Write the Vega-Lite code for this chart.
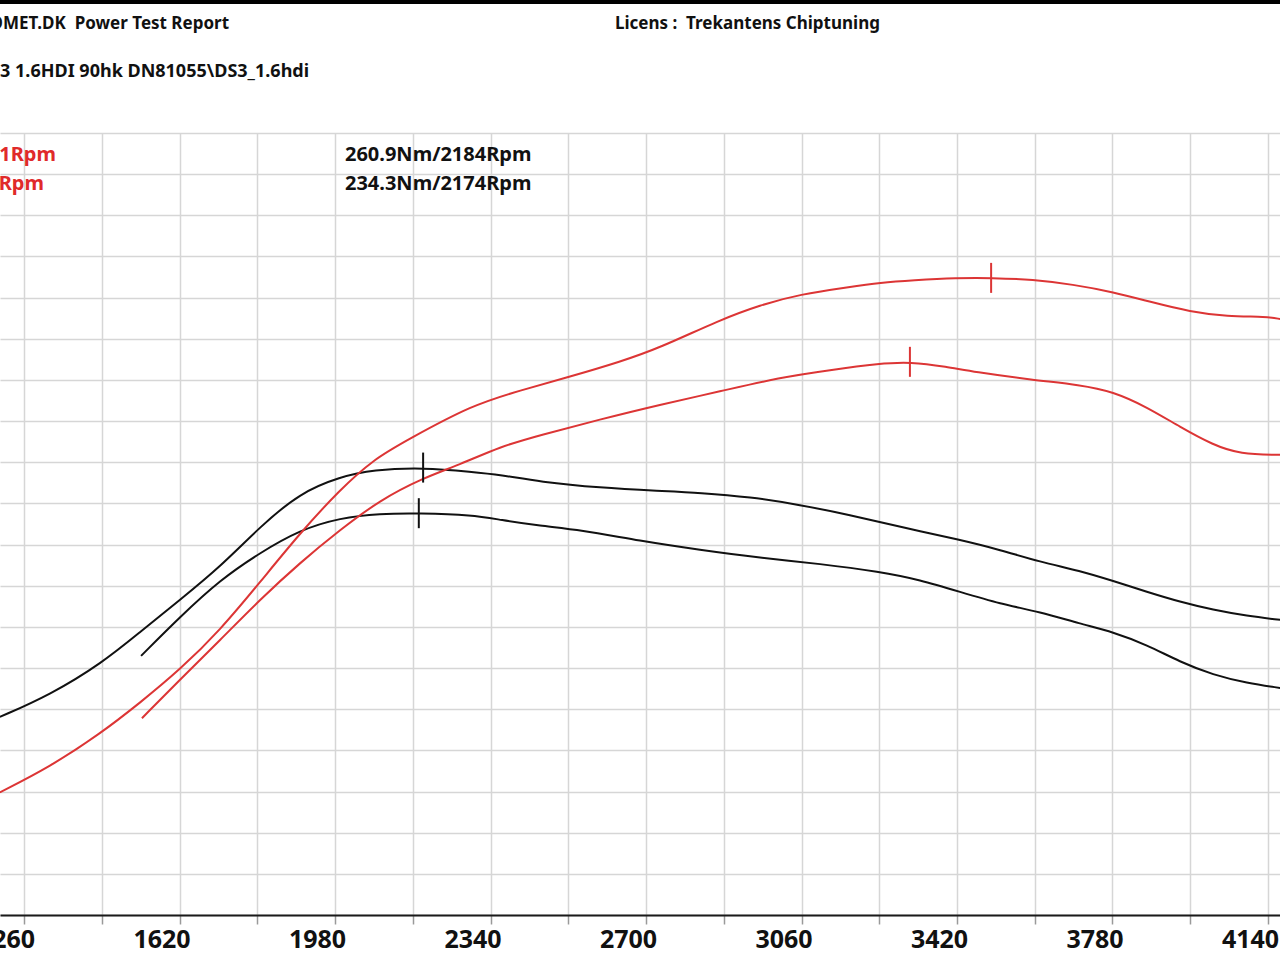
{
  "$schema": "https://vega.github.io/schema/vega-lite/v6.json",
  "width": 1280,
  "height": 782,
  "autosize": {"type": "none"},
  "padding": {"left": 0, "right": 0, "top": 133, "bottom": 45},
  "background": "white",
  "config": {"view": {"stroke": null}},
  "datasets": {
    "torque": [
      {"run": "tuned", "rpm": 1204, "nm": 115.5}, {"run": "tuned", "rpm": 1320, "nm": 128.3}, {"run": "tuned", "rpm": 1441, "nm": 147.0},
      {"run": "tuned", "rpm": 1529, "nm": 165.1}, {"run": "tuned", "rpm": 1621, "nm": 183.8}, {"run": "tuned", "rpm": 1714, "nm": 203.0},
      {"run": "tuned", "rpm": 1806, "nm": 226.3}, {"run": "tuned", "rpm": 1899, "nm": 246.2}, {"run": "tuned", "rpm": 1992, "nm": 255.5},
      {"run": "tuned", "rpm": 2068, "nm": 259.6}, {"run": "tuned", "rpm": 2184, "nm": 260.9}, {"run": "tuned", "rpm": 2299, "nm": 258.4},
      {"run": "tuned", "rpm": 2362, "nm": 256.7}, {"run": "tuned", "rpm": 2455, "nm": 252.6}, {"run": "tuned", "rpm": 2593, "nm": 249.1},
      {"run": "tuned", "rpm": 2732, "nm": 247.3}, {"run": "tuned", "rpm": 2825, "nm": 246.2}, {"run": "tuned", "rpm": 2941, "nm": 243.8},
      {"run": "tuned", "rpm": 3056, "nm": 239.2}, {"run": "tuned", "rpm": 3172, "nm": 233.3}, {"run": "tuned", "rpm": 3288, "nm": 226.3},
      {"run": "tuned", "rpm": 3427, "nm": 218.8}, {"run": "tuned", "rpm": 3520, "nm": 212.9}, {"run": "tuned", "rpm": 3612, "nm": 205.9},
      {"run": "tuned", "rpm": 3705, "nm": 200.7}, {"run": "tuned", "rpm": 3781, "nm": 194.8}, {"run": "tuned", "rpm": 3860, "nm": 188.4},
      {"run": "tuned", "rpm": 3936, "nm": 182.6}, {"run": "tuned", "rpm": 4013, "nm": 177.9}, {"run": "tuned", "rpm": 4091, "nm": 174.4},
      {"run": "tuned", "rpm": 4168, "nm": 172.1},
      {"run": "stock", "rpm": 1531, "nm": 151.1}, {"run": "stock", "rpm": 1621, "nm": 173.8}, {"run": "stock", "rpm": 1714, "nm": 195.4},
      {"run": "stock", "rpm": 1806, "nm": 211.2}, {"run": "stock", "rpm": 1899, "nm": 224.6}, {"run": "stock", "rpm": 1992, "nm": 231.6},
      {"run": "stock", "rpm": 2084, "nm": 234.1}, {"run": "stock", "rpm": 2174, "nm": 234.3}, {"run": "stock", "rpm": 2299, "nm": 233.3},
      {"run": "stock", "rpm": 2362, "nm": 230.4}, {"run": "stock", "rpm": 2455, "nm": 226.9}, {"run": "stock", "rpm": 2547, "nm": 224.6},
      {"run": "stock", "rpm": 2686, "nm": 218.2}, {"run": "stock", "rpm": 2825, "nm": 212.9}, {"run": "stock", "rpm": 2964, "nm": 208.3},
      {"run": "stock", "rpm": 3103, "nm": 204.8}, {"run": "stock", "rpm": 3242, "nm": 200.1}, {"run": "stock", "rpm": 3334, "nm": 195.4},
      {"run": "stock", "rpm": 3427, "nm": 188.4}, {"run": "stock", "rpm": 3520, "nm": 181.4}, {"run": "stock", "rpm": 3612, "nm": 176.8},
      {"run": "stock", "rpm": 3705, "nm": 169.8}, {"run": "stock", "rpm": 3781, "nm": 165.1}, {"run": "stock", "rpm": 3860, "nm": 157.5},
      {"run": "stock", "rpm": 3936, "nm": 147.6}, {"run": "stock", "rpm": 4013, "nm": 140.0}, {"run": "stock", "rpm": 4091, "nm": 135.3},
      {"run": "stock", "rpm": 4168, "nm": 132.4}
    ],
    "power": [
      {"run": "tuned", "rpm": 1204, "kw": 14.9}, {"run": "tuned", "rpm": 1320, "kw": 18.0}, {"run": "tuned", "rpm": 1436, "kw": 22.0},
      {"run": "tuned", "rpm": 1529, "kw": 25.8}, {"run": "tuned", "rpm": 1621, "kw": 29.8}, {"run": "tuned", "rpm": 1714, "kw": 34.6},
      {"run": "tuned", "rpm": 1806, "kw": 40.4}, {"run": "tuned", "rpm": 1899, "kw": 46.4}, {"run": "tuned", "rpm": 1992, "kw": 51.7},
      {"run": "tuned", "rpm": 2068, "kw": 55.3}, {"run": "tuned", "rpm": 2147, "kw": 57.7}, {"run": "tuned", "rpm": 2299, "kw": 62.0},
      {"run": "tuned", "rpm": 2408, "kw": 63.7}, {"run": "tuned", "rpm": 2524, "kw": 65.4}, {"run": "tuned", "rpm": 2640, "kw": 67.2},
      {"run": "tuned", "rpm": 2732, "kw": 68.9}, {"run": "tuned", "rpm": 2871, "kw": 72.3}, {"run": "tuned", "rpm": 2964, "kw": 74.1},
      {"run": "tuned", "rpm": 3056, "kw": 75.4}, {"run": "tuned", "rpm": 3172, "kw": 76.3}, {"run": "tuned", "rpm": 3242, "kw": 76.8},
      {"run": "tuned", "rpm": 3318, "kw": 77.1}, {"run": "tuned", "rpm": 3420, "kw": 77.4}, {"run": "tuned", "rpm": 3499, "kw": 77.4},
      {"run": "tuned", "rpm": 3596, "kw": 77.2}, {"run": "tuned", "rpm": 3688, "kw": 76.6}, {"run": "tuned", "rpm": 3781, "kw": 75.7},
      {"run": "tuned", "rpm": 3874, "kw": 74.4}, {"run": "tuned", "rpm": 3959, "kw": 73.3}, {"run": "tuned", "rpm": 4045, "kw": 72.7},
      {"run": "tuned", "rpm": 4138, "kw": 72.7}, {"run": "tuned", "rpm": 4168, "kw": 72.4},
      {"run": "stock", "rpm": 1533, "kw": 23.9}, {"run": "stock", "rpm": 1621, "kw": 28.6}, {"run": "stock", "rpm": 1714, "kw": 33.4},
      {"run": "stock", "rpm": 1806, "kw": 38.3}, {"run": "stock", "rpm": 1899, "kw": 42.8}, {"run": "stock", "rpm": 1992, "kw": 46.8},
      {"run": "stock", "rpm": 2084, "kw": 50.4}, {"run": "stock", "rpm": 2184, "kw": 53.1}, {"run": "stock", "rpm": 2269, "kw": 54.7},
      {"run": "stock", "rpm": 2362, "kw": 56.9}, {"run": "stock", "rpm": 2455, "kw": 58.3}, {"run": "stock", "rpm": 2593, "kw": 60.2},
      {"run": "stock", "rpm": 2732, "kw": 62.0}, {"run": "stock", "rpm": 2871, "kw": 63.6}, {"run": "stock", "rpm": 3010, "kw": 65.3},
      {"run": "stock", "rpm": 3126, "kw": 66.2}, {"run": "stock", "rpm": 3242, "kw": 67.0}, {"run": "stock", "rpm": 3311, "kw": 67.2},
      {"run": "stock", "rpm": 3397, "kw": 66.6}, {"run": "stock", "rpm": 3457, "kw": 66.0}, {"run": "stock", "rpm": 3596, "kw": 65.0},
      {"run": "stock", "rpm": 3705, "kw": 64.4}, {"run": "stock", "rpm": 3781, "kw": 63.6}, {"run": "stock", "rpm": 3860, "kw": 61.7},
      {"run": "stock", "rpm": 3936, "kw": 59.3}, {"run": "stock", "rpm": 4013, "kw": 57.1}, {"run": "stock", "rpm": 4075, "kw": 56.0},
      {"run": "stock", "rpm": 4168, "kw": 55.9}
    ],
    "torquePeaks": [
      {"run": "tuned", "rpm": 2184, "nm": 260.9},
      {"run": "stock", "rpm": 2174, "nm": 234.3}
    ],
    "powerPeaks": [
      {"run": "tuned", "rpm": 3499, "kw": 77.4},
      {"run": "stock", "rpm": 3311, "kw": 67.2}
    ],
    "headerRight": [
      {"text": "OMET.DK\u00a0 Power Test Report", "rpm": 1734.6, "nm": 519.8}
    ],
    "headerLeft": [
      {"text": "Licens :\u00a0 Trekantens Chiptuning", "rpm": 2628.2, "nm": 519.8}
    ],
    "subHeader": [
      {"text": "3 1.6HDI 90hk DN81055\\DS3_1.6hdi", "rpm": 1204.6, "nm": 491.8}
    ],
    "redNotes": [
      {"text": "1Rpm", "rpm": 1334.0, "nm": 443.3},
      {"text": "Rpm", "rpm": 1306.3, "nm": 426.4}
    ],
    "blackNotes": [
      {"text": "260.9Nm/2184Rpm", "rpm": 2003.1, "nm": 443.3},
      {"text": "234.3Nm/2174Rpm", "rpm": 2003.1, "nm": 426.4}
    ],
    "frame": [{"nm": 533}]
  },
  "layer": [
    {
      "data": {"name": "torque"},
      "mark": {"type": "line", "interpolate": "basis", "strokeWidth": 2, "color": "#111111", "clip": true},
      "encoding": {
        "x": {
          "field": "rpm", "type": "quantitative",
          "scale": {"domain": [1204.4, 4167.8], "nice": false, "zero": false},
          "axis": {
            "title": null,
            "values": [1260, 1440, 1620, 1800, 1980, 2160, 2340, 2520, 2700, 2880, 3060, 3240, 3420, 3600, 3780, 3960, 4140],
            "format": "d",
            "labelExpr": "(datum.value - 1260) % 360 == 0 ? datum.label : ''",
            "grid": true, "gridColor": "#d6d6d6", "gridWidth": 1.5,
            "domainColor": "#1a1a1a", "domainWidth": 2,
            "tickColor": "#9a9a9a", "tickSize": 9, "tickWidth": 1.5,
            "labelFont": "Noto Sans", "labelFontWeight": "bold", "labelFontSize": 25, "labelColor": "#111111",
            "labelOffset": -18, "labelPadding": 3, "labelFlush": false, "labelOverlap": false
          }
        },
        "y": {
          "field": "nm", "type": "quantitative",
          "scale": {"domain": [0, 456], "nice": false, "zero": false},
          "axis": {
            "title": null, "labels": false, "ticks": false, "domain": false,
            "values": [0, 24, 48, 72, 96, 120, 144, 168, 192, 216, 240, 264, 288, 312, 336, 360, 384, 408, 432, 456],
            "grid": true, "gridColor": "#d6d6d6", "gridWidth": 1.5
          }
        },
        "detail": {"field": "run", "type": "nominal"}
      }
    },
    {
      "data": {"name": "power"},
      "mark": {"type": "line", "interpolate": "basis", "strokeWidth": 2, "color": "#dc3535", "clip": true},
      "encoding": {
        "x": {"field": "rpm", "type": "quantitative", "scale": {"domain": [1204.4, 4167.8], "nice": false, "zero": false}},
        "y": {"field": "kw", "type": "quantitative", "scale": {"domain": [0, 95], "nice": false, "zero": false}, "axis": null},
        "detail": {"field": "run", "type": "nominal"}
      }
    },
    {
      "data": {"name": "torquePeaks"},
      "mark": {"type": "tick", "orient": "vertical", "size": 30, "thickness": 2, "color": "#111111", "opacity": 1},
      "encoding": {
        "x": {"field": "rpm", "type": "quantitative", "scale": {"domain": [1204.4, 4167.8], "nice": false, "zero": false}},
        "y": {"field": "nm", "type": "quantitative", "scale": {"domain": [0, 456], "nice": false, "zero": false}, "axis": null}
      }
    },
    {
      "data": {"name": "powerPeaks"},
      "mark": {"type": "tick", "orient": "vertical", "size": 30, "thickness": 2, "color": "#dc3535", "opacity": 1},
      "encoding": {
        "x": {"field": "rpm", "type": "quantitative", "scale": {"domain": [1204.4, 4167.8], "nice": false, "zero": false}},
        "y": {"field": "kw", "type": "quantitative", "scale": {"domain": [0, 95], "nice": false, "zero": false}, "axis": null}
      }
    },
    {
      "data": {"name": "headerRight"},
      "mark": {"type": "text", "align": "right", "baseline": "middle", "font": "Noto Sans", "fontWeight": "bold", "fontSize": 17, "color": "#111111"},
      "encoding": {
        "x": {"field": "rpm", "type": "quantitative", "scale": {"domain": [1204.4, 4167.8], "nice": false, "zero": false}},
        "y": {"field": "nm", "type": "quantitative", "scale": {"domain": [0, 456], "nice": false, "zero": false}, "axis": null},
        "text": {"field": "text"}
      }
    },
    {
      "data": {"name": "headerLeft"},
      "mark": {"type": "text", "align": "left", "baseline": "middle", "font": "Noto Sans", "fontWeight": "bold", "fontSize": 17, "color": "#111111"},
      "encoding": {
        "x": {"field": "rpm", "type": "quantitative", "scale": {"domain": [1204.4, 4167.8], "nice": false, "zero": false}},
        "y": {"field": "nm", "type": "quantitative", "scale": {"domain": [0, 456], "nice": false, "zero": false}, "axis": null},
        "text": {"field": "text"}
      }
    },
    {
      "data": {"name": "subHeader"},
      "mark": {"type": "text", "align": "left", "baseline": "middle", "font": "Noto Sans", "fontWeight": "bold", "fontSize": 18, "color": "#111111"},
      "encoding": {
        "x": {"field": "rpm", "type": "quantitative", "scale": {"domain": [1204.4, 4167.8], "nice": false, "zero": false}},
        "y": {"field": "nm", "type": "quantitative", "scale": {"domain": [0, 456], "nice": false, "zero": false}, "axis": null},
        "text": {"field": "text"}
      }
    },
    {
      "data": {"name": "redNotes"},
      "mark": {"type": "text", "align": "right", "baseline": "middle", "font": "Noto Sans", "fontWeight": "bold", "fontSize": 20, "color": "#e02a2a"},
      "encoding": {
        "x": {"field": "rpm", "type": "quantitative", "scale": {"domain": [1204.4, 4167.8], "nice": false, "zero": false}},
        "y": {"field": "nm", "type": "quantitative", "scale": {"domain": [0, 456], "nice": false, "zero": false}, "axis": null},
        "text": {"field": "text"}
      }
    },
    {
      "data": {"name": "blackNotes"},
      "mark": {"type": "text", "align": "left", "baseline": "middle", "font": "Noto Sans", "fontWeight": "bold", "fontSize": 20, "color": "#111111"},
      "encoding": {
        "x": {"field": "rpm", "type": "quantitative", "scale": {"domain": [1204.4, 4167.8], "nice": false, "zero": false}},
        "y": {"field": "nm", "type": "quantitative", "scale": {"domain": [0, 456], "nice": false, "zero": false}, "axis": null},
        "text": {"field": "text"}
      }
    },
    {
      "data": {"name": "frame"},
      "mark": {"type": "rule", "strokeWidth": 6, "color": "#000000"},
      "encoding": {
        "y": {"field": "nm", "type": "quantitative", "scale": {"domain": [0, 456], "nice": false, "zero": false}, "axis": null}
      }
    }
  ],
  "resolve": {"scale": {"y": "independent"}, "axis": {"y": "independent"}}
}
